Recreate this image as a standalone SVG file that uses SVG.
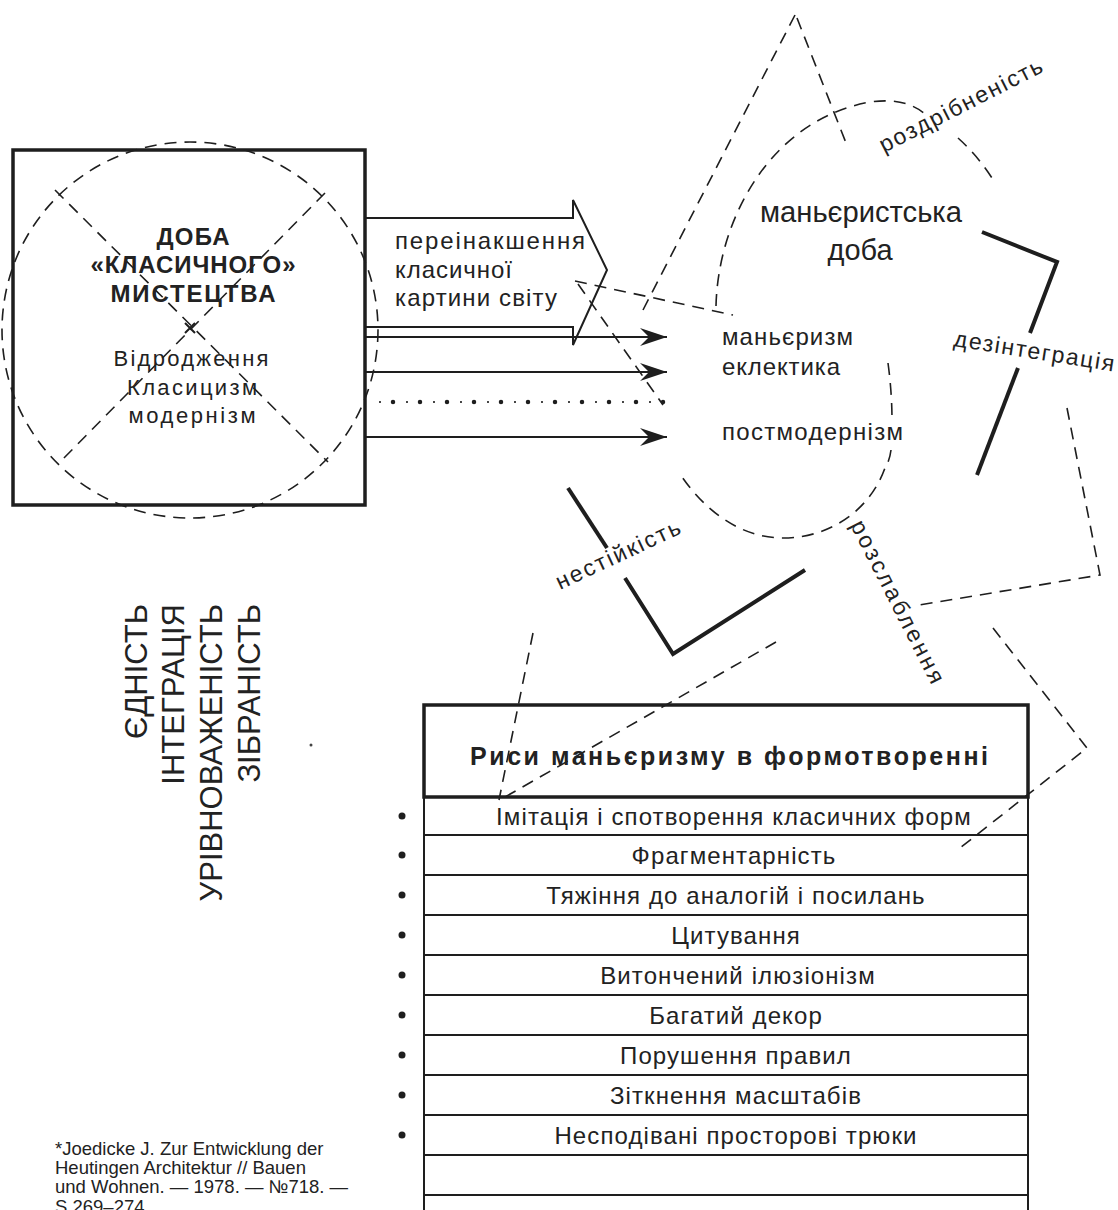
<svg xmlns="http://www.w3.org/2000/svg" width="1118" height="1210" viewBox="0 0 1118 1210">
<style>
.d{fill:none;stroke:#1e1e1e;stroke-width:1.6;stroke-dasharray:12 8}
.s{fill:none;stroke:#1e1e1e;stroke-width:2}
.b{fill:none;stroke:#1e1e1e;stroke-width:4}
.t{font-family:"Liberation Sans",Arial,sans-serif;fill:#222}
.bold{font-weight:bold}
.row{font-size:24px;letter-spacing:1.1px}
</style>
<defs>
<marker id="ah" markerUnits="userSpaceOnUse" markerWidth="28" markerHeight="20" refX="27" refY="9" orient="auto">
<path d="M0,0 L27,9 L0,18 L9,9 Z" fill="#1e1e1e"/>
</marker>
</defs>
<rect width="1118" height="1210" fill="#fff"/>

<g id="classic-era">
<rect x="13" y="150" width="352" height="355" fill="none" stroke="#1e1e1e" stroke-width="3.5"/>
<circle cx="190" cy="330" r="188" class="d"/>
<path class="d" d="M55,190 L328,462 M325,193 L60,462"/>
<path class="s" stroke-width="1.5" d="M185,323 L195,333 M195,323 L185,333"/>
<text class="t bold" font-size="24" text-anchor="middle" x="193" y="245" textLength="73">ДОБА</text>
<text class="t bold" font-size="24" text-anchor="middle" x="193" y="273" textLength="205">«КЛАСИЧНОГО»</text>
<text class="t bold" font-size="24" text-anchor="middle" x="193" y="302" textLength="165">МИСТЕЦТВА</text>
<text class="t" font-size="22" text-anchor="middle" x="191" y="366" textLength="155">Відродження</text>
<text class="t" font-size="22" text-anchor="middle" x="192" y="395" textLength="130">Класицизм</text>
<text class="t" font-size="22" text-anchor="middle" x="192" y="423" textLength="127">модернізм</text>
</g>

<g id="unity-words">
<text class="t" font-size="31" text-anchor="end" transform="translate(147,604) rotate(-90)">ЄДНІСТЬ</text>
<text class="t" font-size="31" text-anchor="end" transform="translate(184,604) rotate(-90)">ІНТЕГРАЦІЯ</text>
<text class="t" font-size="31" text-anchor="end" transform="translate(222,604) rotate(-90)">УРІВНОВАЖЕНІСТЬ</text>
<text class="t" font-size="31" text-anchor="end" transform="translate(260,604) rotate(-90)">ЗІБРАНІСТЬ</text>
<circle cx="311" cy="745" r="1.5" fill="#444"/>
</g>

<g id="connectors">
<path class="s" d="M365,218 L573,218 L573,200 L607,270 L573,345 L573,327 L365,327"/>
<line class="s" x1="365" y1="337" x2="667" y2="337" marker-end="url(#ah)"/>
<line class="s" x1="365" y1="372" x2="667" y2="372" marker-end="url(#ah)"/>
<line x1="393" y1="402" x2="665" y2="402" stroke="#1e1e1e" stroke-width="4.5" stroke-linecap="round" stroke-dasharray="0 27"/>
<line x1="380" y1="402" x2="665" y2="402" stroke="#1e1e1e" stroke-width="2.2" stroke-linecap="round" stroke-dasharray="0 27"/>
<line class="s" x1="365" y1="437" x2="667" y2="437" marker-end="url(#ah)"/>
</g>

<g id="distortion-label">
<text class="t" font-size="24" x="395" y="249" textLength="190">переінакшення</text>
<text class="t" font-size="24" x="395" y="278" textLength="117">класичної</text>
<text class="t" font-size="24" x="395" y="306" textLength="162">картини світу</text>
</g>

<g id="mannerist-era">
<path class="d" d="M795,15 L643,310"/>
<path class="d" d="M797,18 L848,148"/>
<path class="d" d="M716,306 C718,220 770,120 870,102 Q905,97 925,114"/>
<path class="d" d="M958,138 Q977,155 992,178"/>
<path class="d" d="M575,281 L733,315"/>
<path class="d" d="M578,284 L663,405"/>
<path class="d" d="M888,363 C891,385 892,405 892,420"/>
<path class="d" d="M891,450 C890,458 888,463 885,468 C870,510 830,538 783,538 C740,538 705,510 682,477"/>
<path class="d" d="M1067,408 L1100,575 L913,606"/>
<path class="d" d="M993,628 L1087,748 L960,848"/>
<path class="d" d="M533,633 L499,800"/>
<path class="d" d="M776,642 L505,797"/>
<polyline class="b" points="982,232 1057,262 1030,333"/>
<line class="b" x1="1018" y1="368" x2="977" y2="475"/>
<line class="b" x1="568" y1="488" x2="607" y2="548"/>
<polyline class="b" points="625,578 673,654 805,570"/>
<text class="t" font-size="30" text-anchor="middle" x="861" y="222" textLength="202" lengthAdjust="spacingAndGlyphs">маньєристська</text>
<text class="t" font-size="30" text-anchor="middle" x="860" y="260" textLength="65" lengthAdjust="spacingAndGlyphs">доба</text>
<text class="t" font-size="24" x="722" y="345" textLength="131">маньєризм</text>
<text class="t" font-size="24" x="722" y="375" textLength="118">еклектика</text>
<text class="t" font-size="24" x="722" y="440" textLength="181">постмодернізм</text>
<text class="t" font-size="23" transform="translate(884,153) rotate(-27)" textLength="180">роздрібненість</text>
<text class="t" font-size="23" transform="translate(953,346) rotate(9)" textLength="162">дезінтеграція</text>
<text class="t" font-size="23" transform="translate(560,590) rotate(-25)" textLength="135">нестійкість</text>
<text class="t" font-size="23" transform="translate(850,525) rotate(63)" textLength="180">розслаблення</text>
</g>

<g id="features-table">
<rect x="424" y="705" width="604" height="92" fill="none" stroke="#1e1e1e" stroke-width="3.5"/>
<text class="t bold" font-size="25" text-anchor="middle" x="729" y="765" textLength="518">Риси маньєризму в формотворенні</text>
<path class="s" d="M424,797 V1210 M1028,797 V1210 M424,835 H1028 M424,875 H1028 M424,915 H1028 M424,955 H1028 M424,995 H1028 M424,1035 H1028 M424,1075 H1028 M424,1115 H1028 M424,1155 H1028 M424,1195 H1028"/>
<g fill="#1e1e1e">
<circle cx="402" cy="816" r="3.5"/><circle cx="402" cy="855" r="3.5"/><circle cx="402" cy="895" r="3.5"/>
<circle cx="402" cy="935" r="3.5"/><circle cx="402" cy="975" r="3.5"/><circle cx="402" cy="1015" r="3.5"/>
<circle cx="402" cy="1055" r="3.5"/><circle cx="402" cy="1095" r="3.5"/><circle cx="402" cy="1135" r="3.5"/>
</g>
<g class="t row" text-anchor="middle">
<text x="734" y="825">Імітація і спотворення класичних форм</text>
<text x="734" y="864">Фрагментарність</text>
<text x="736" y="904">Тяжіння до аналогій і посилань</text>
<text x="736" y="944">Цитування</text>
<text x="738" y="984">Витончений ілюзіонізм</text>
<text x="736" y="1024">Багатий декор</text>
<text x="736" y="1064">Порушення правил</text>
<text x="736" y="1104">Зіткнення масштабів</text>
<text x="736" y="1144">Несподівані просторові трюки</text>
</g>
</g>

<g id="footnote" class="t" font-size="18.5">
<text x="55" y="1155">*Joedicke J. Zur Entwicklung der</text>
<text x="55" y="1174">Heutingen Architektur // Bauen</text>
<text x="55" y="1193">und Wohnen. — 1978. — №718. —</text>
<text x="55" y="1213">S.269–274.</text>
</g>
</svg>
